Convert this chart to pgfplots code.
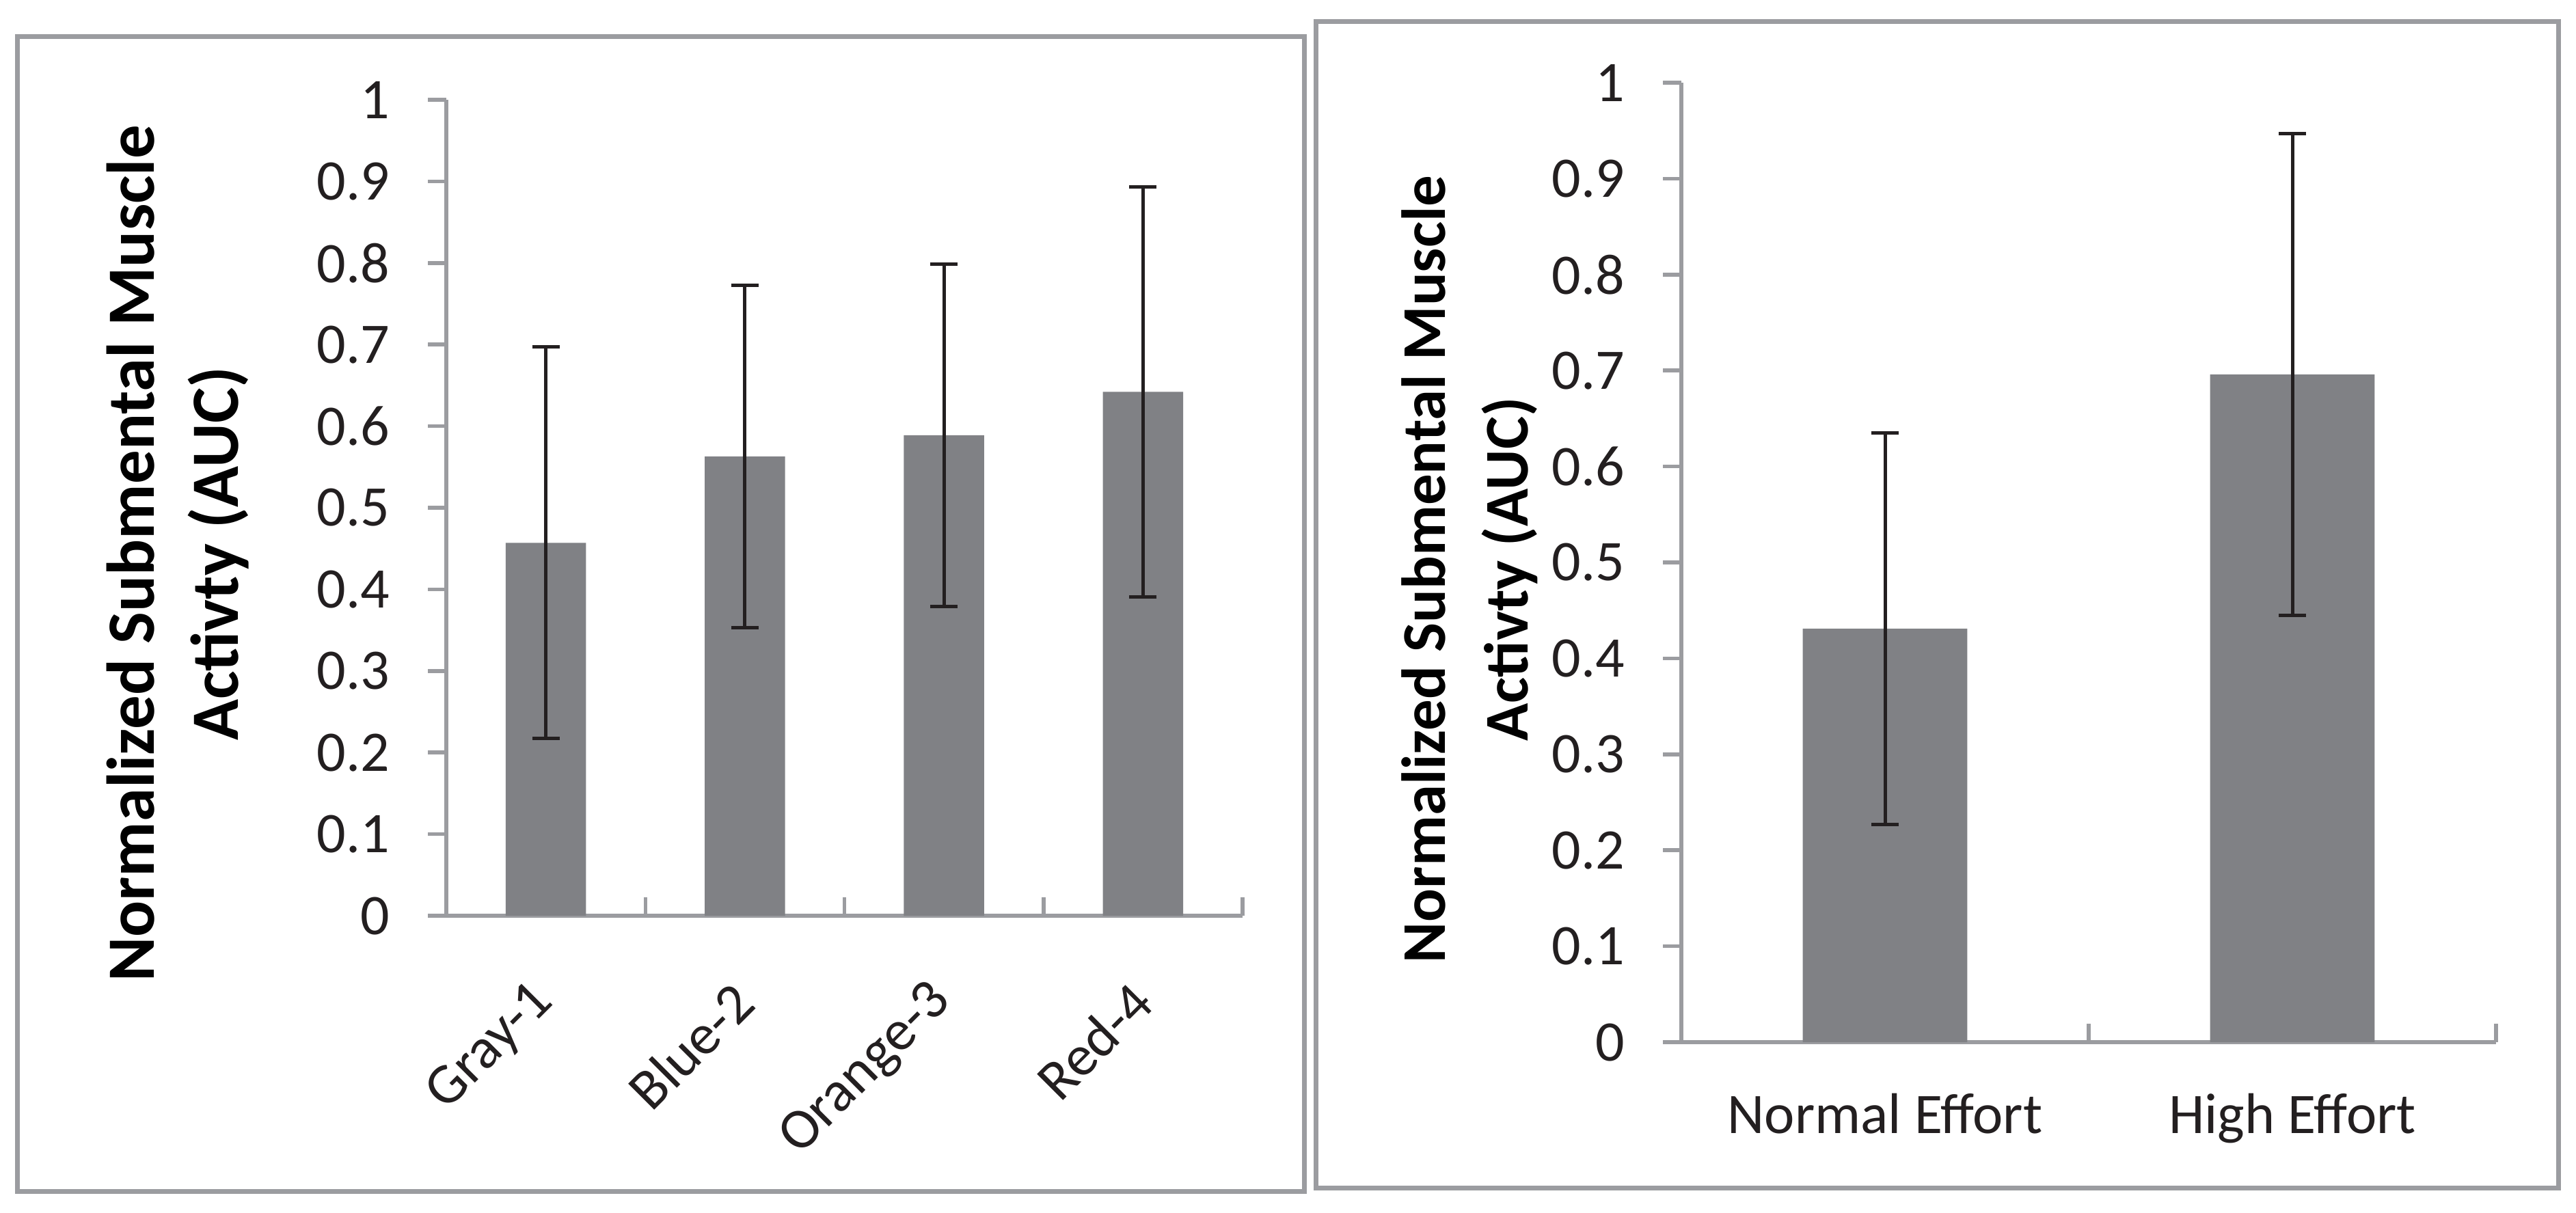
\documentclass[border=0pt]{standalone}
\usepackage{fontspec}
\setmainfont{Carlito}
\usepackage{pgfplots}
\pgfplotsset{compat=1.18}
\definecolor{bargray}{RGB}{128,129,133}
\definecolor{axgray}{RGB}{155,156,160}
\definecolor{txt}{RGB}{35,31,32}
\pgfplotsset{
  excelbar/.style={
    scale only axis,
    axis lines*=left,
    axis line style={axgray, line width=0.55pt},
    ymin=0, ymax=1,
    ytick={0,0.1,0.2,0.3,0.4,0.5,0.6,0.7,0.8,0.9,1},
    yticklabels={0,0.1,0.2,0.3,0.4,0.5,0.6,0.7,0.8,0.9,1},
    tick align=inside,
    major tick length=-2.7pt,
    tick style={axgray, line width=0.55pt},
    ybar, bar width=0.404,
    ticklabel style={font=\fontsize{8.4}{10}\selectfont, text=txt},
    yticklabel style={anchor=east, inner sep=0pt, xshift=-8.1pt},
    x tick label as interval,
    clip=false,
  },
  excelerr/.style={
    fill=bargray, draw=none,
    error bars/.cd, y dir=both, y explicit,
    error bar style={line width=0.5pt, draw=txt},
    error mark options={rotate=90, line width=0.5pt, mark size=2pt, draw=txt},
  },
}
\pgfplotstableread{
x y e
1 0.457 0.240
2 0.563 0.210
3 0.589 0.210
4 0.642 0.251
}\colorsdata
\pgfplotstableread{
x y e
1 0.431 0.204
2 0.696 0.251
}\effortdata
\begin{document}
\begin{tikzpicture}
\path[use as bounding box] (0,0) rectangle (376.9pt,177.4pt);
\draw[axgray, line width=0.7pt] (2.5pt,3.1pt) rectangle (190.8pt,172.1pt);
\draw[axgray, line width=0.7pt] (192.5pt,3.6pt) rectangle (374.3pt,174.3pt);

\begin{axis}[excelbar,
  at={(65.3pt,43.4pt)}, anchor=south west,
  width=116.5pt, height=119.4pt,
  xmin=0.5, xmax=4.5,
  xtick={0.5,1.5,2.5,3.5,4.5},
  xticklabels={Gray-1,Blue-2,Orange-3,Red-4},
  xticklabel style={yshift=-13.9pt, rotate=45, anchor=east, inner sep=0pt},
  ylabel={Normalized Submental Muscle\\Activty (AUC)},
  ylabel style={font=\bfseries\fontsize{9.9}{12.3}\selectfont, align=center,
    at={(axis description cs:-0.337,0.444)}, anchor=center},
]
\addplot[excelerr] table[x=x, y=y, y error=e] {\colorsdata};
\end{axis}

\begin{axis}[excelbar,
  at={(246pt,24.9pt)}, anchor=south west,
  width=119.2pt, height=140.4pt,
  xmin=0.5, xmax=2.5,
  xtick={0.5,1.5,2.5},
  xticklabels={Normal Effort,High Effort},
  xticklabel style={anchor=base, inner sep=0pt, yshift=-16pt},
  ylabel={Normalized Submental Muscle\\Activty (AUC)},
  ylabel style={font=\bfseries\fontsize{9.1}{12.1}\selectfont, align=center,
    at={(axis description cs:-0.260,0.493)}, anchor=center},
]
\addplot[excelerr] table[x=x, y=y, y error=e] {\effortdata};
\end{axis}
\end{tikzpicture}
\end{document}
